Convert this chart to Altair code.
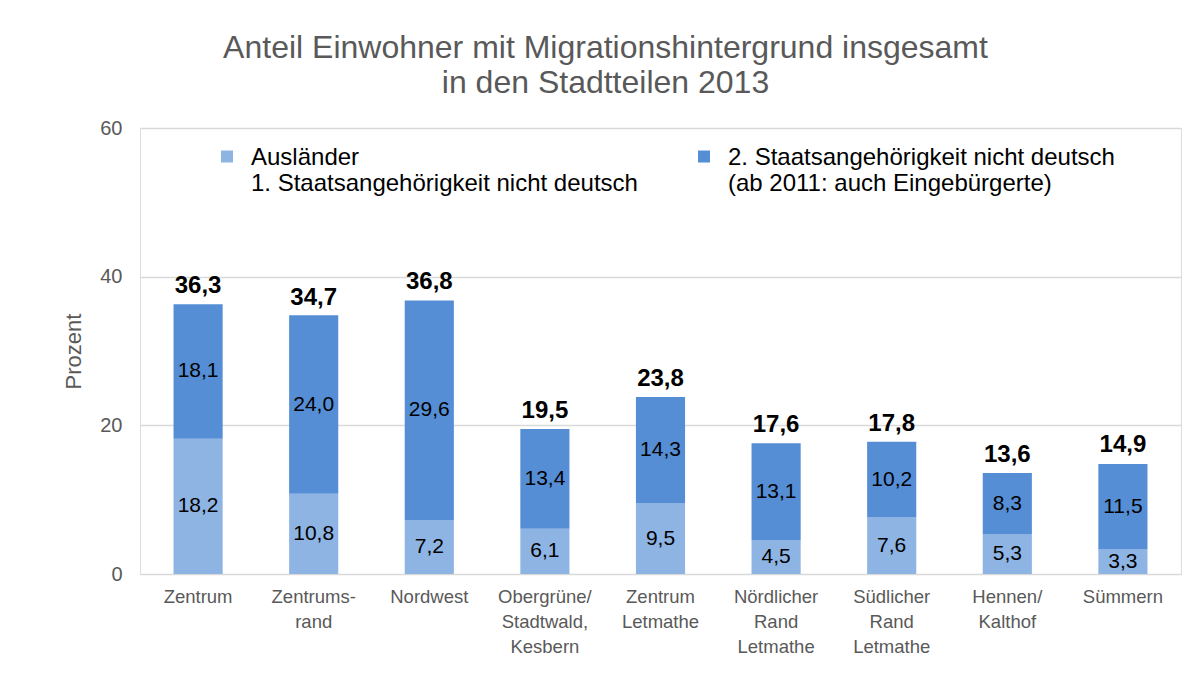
import altair as alt
import pandas as pd

categories = ["Zentrum", "Zentrums-\nrand", "Nordwest", "Obergrüne/\nStadtwald,\nKesbern",
              "Zentrum\nLetmathe", "Nördlicher\nRand\nLetmathe", "Südlicher\nRand\nLetmathe",
              "Hennen/\nKalthof", "Sümmern"]
auslaender = [18.2, 10.8, 7.2, 6.1, 9.5, 4.5, 7.6, 5.3, 3.3]
zweite = [18.1, 24.0, 29.6, 13.4, 14.3, 13.1, 10.2, 8.3, 11.5]
totals = [36.3, 34.7, 36.8, 19.5, 23.8, 17.6, 17.8, 13.6, 14.9]
series_names = ["Ausländer\n1. Staatsangehörigkeit nicht deutsch",
                "2. Staatsangehörigkeit nicht deutsch\n\u00a0(ab 2011: auch Eingebürgerte)"]
colors = ["#8EB4E3", "#558ED5"]


def fmt(v):
    return f"{v:.1f}".replace(".", ",")


rows = []
for i, c in enumerate(categories):
    a, z = auslaender[i], zweite[i]
    rows.append({"cat": c, "series": series_names[0], "value": a, "order": 0,
                 "mid": a / 2, "label": fmt(a)})
    rows.append({"cat": c, "series": series_names[1], "value": z, "order": 1,
                 "mid": a + z / 2, "label": fmt(z)})
df = pd.DataFrame(rows)
tot = pd.DataFrame({"cat": categories, "total": totals, "label": [fmt(t) for t in totals]})

FONT = "Liberation Sans"
x = alt.X("cat:N", sort=categories, title=None,
          scale=alt.Scale(paddingInner=0.575, paddingOuter=0.29),
          axis=alt.Axis(labelExpr="split(datum.label, '\\n')", labelAngle=0,
                        labelFontSize=18.5, labelColor="#595959", labelFont=FONT,
                        labelLineHeight=25, labelBaseline="top", labelPadding=13,
                        ticks=False, domain=False, grid=False))

bars = alt.Chart(df).mark_bar().encode(
    x=x,
    y=alt.Y("value:Q", stack="zero",
            scale=alt.Scale(domain=[0, 60]),
            axis=alt.Axis(values=[0, 20, 40, 60], title="Prozent", titleFont=FONT,
                          titleFontSize=22, titleFontWeight="normal", titleColor="#595959",
                          titlePadding=14, labelFont=FONT, labelFontSize=20,
                          labelColor="#595959", labelPadding=18, ticks=False,
                          domain=False, gridColor="#D9D9D9", gridWidth=1.3)),
    color=alt.Color("series:N", sort=series_names,
                    scale=alt.Scale(domain=series_names, range=colors),
                    legend=alt.Legend(title=None, orient="none", legendX=75, legendY=6,
                                      direction="horizontal",
                                      symbolType="M-1,0.75L1,0.75L1,2.75L-1,2.75Z",
                                      symbolSize=144, symbolStrokeWidth=0,
                                      labelExpr="split(datum.label, '\\n')",
                                      labelFont=FONT, labelFontSize=24, labelColor="#000000",
                                      labelLimit=700, labelBaseline="top", labelOffset=12,
                                      columnPadding=54)),
    order=alt.Order("order:Q"),
)

seg_labels = alt.Chart(df).mark_text(font=FONT, fontSize=21, color="#000000").encode(
    x=alt.X("cat:N", sort=categories),
    y=alt.Y("mid:Q"),
    text="label:N",
)

tot_labels = alt.Chart(tot).mark_text(font=FONT, fontSize=24, fontWeight="bold",
                                      color="#000000", baseline="bottom", dy=-6).encode(
    x=alt.X("cat:N", sort=categories),
    y=alt.Y("total:Q"),
    text="label:N",
)

chart = alt.layer(bars, seg_labels, tot_labels).properties(
    width=1041, height=446,
    title=alt.Title(["Anteil Einwohner mit Migrationshintergrund insgesamt",
                     "in den Stadtteilen 2013"],
                    font=FONT, fontSize=32, fontWeight="normal", color="#595959",
                    anchor="middle", dx=-55, offset=18, lineHeight=35),
    autosize=alt.AutoSizeParams(type="none"),
    padding={"left": 132, "top": 120, "right": 2, "bottom": 96},
).configure_view(stroke=None).configure(background="white")

chart.save("out.html", embed_options={"renderer": "svg", "actions": False})
